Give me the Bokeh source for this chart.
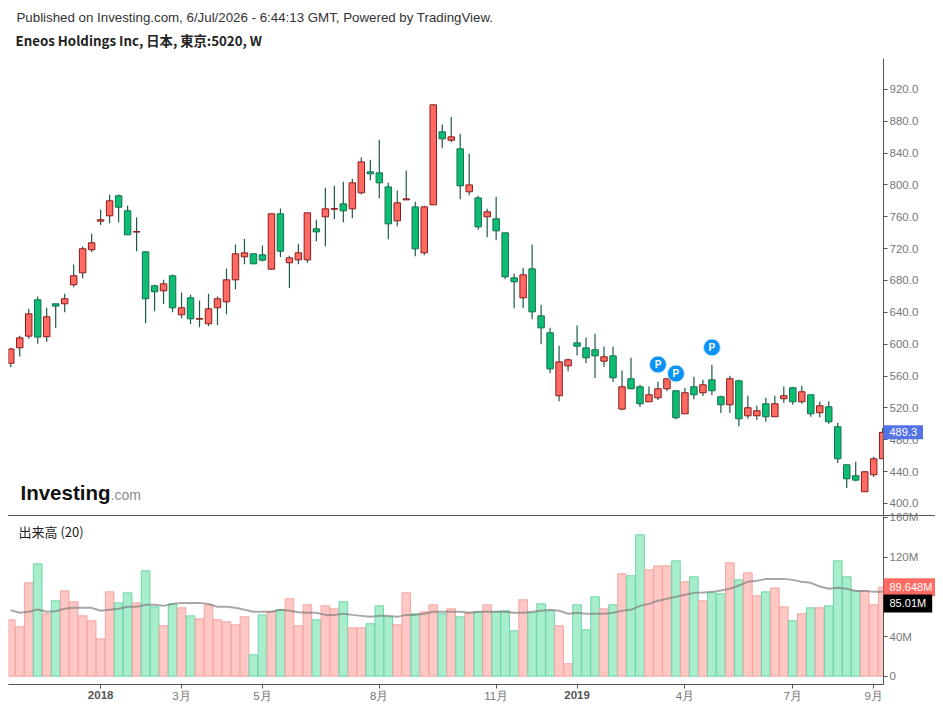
from bokeh.plotting import figure
from bokeh.layouts import column
from bokeh.models import Range1d, LinearAxis, FixedTicker, NumeralTickFormatter, Label, Div
from bokeh.embed import file_html
from bokeh.resources import INLINE

up = [1,1,1,0,1,0,1,1,1,1,1,1,0,0,1,0,0,1,0,1,0,1,1,1,1,1,1,0,0,1,0,1,1,1,0,1,1,0,1,1,0,0,0,1,1,0,1,1,0,1,0,1,0,1,0,0,0,1,0,0,0,1,1,0,0,0,1,0,1,0,0,1,1,1,0,1,0,1,0,0,1,0,1,1,0,1,1,0,1,0,1,0,0,0,0,1,1,1]
highs = [595,610.5,644.4,659.9,645.7,650.7,663.3,700.1,722.7,738.6,768.7,787.6,788,773.7,759.1,716,674.6,680.8,687.5,664.9,662,654.9,663.3,659.9,695,725.2,732.3,713.5,723.9,763.7,770.4,711,726,764.9,756.1,796.3,798.8,803.8,807.6,834.4,831.5,856.6,802.6,793,818.1,778.7,773.7,900.5,875.8,885.4,864.1,839,786.3,769.9,785,739.8,688.8,695.9,725.2,649.4,620.5,597.9,581.6,623.5,608.4,613,597.2,597.2,567,582.9,549,546.9,552.8,556.6,541.5,545.3,559.1,555.3,574.1,535.2,560.3,555.3,535.2,522.7,532.7,535.2,546.9,546.5,547.8,536.5,528.1,528.5,501.3,448.6,452.4,440.6,458.6,495]
tops = [594,608,638.1,655.7,634.4,650.7,657,685.9,719.8,727.3,756.2,780,786.3,767.5,741.5,716,673.3,675.8,685.9,645.7,658.2,632.3,644.4,657,680.8,713.5,714.7,713.5,712.2,763.7,763.7,708.4,714.7,764.9,744.8,769.9,770.3,776.2,802.6,828.9,816.4,815.1,797.5,777.5,782.5,772.4,772.4,900.5,866.6,860.3,845.3,800,783.7,766.2,757.4,739.8,683.3,687.1,694.6,635.6,614.3,577.8,580.4,601.7,595.4,593,584.2,585.4,546.5,556.6,546.5,536.5,544,556.6,541.5,539,546.5,549,555.3,534,556.6,554,520.2,516.4,525.2,525.2,535.2,545.3,540.2,536.5,522.7,521.4,496.3,448.6,434.8,439.8,456.1,489.3]
bottoms = [576,595.5,610.1,608.9,609.3,647.8,650.7,674.6,689.6,718.5,754.5,761.2,772,737.3,740.7,657,665.8,667,645.7,636.9,631.9,631.4,625.6,645.7,653.2,680.8,709.7,700.9,705.5,694.2,716.8,702.2,705.9,705.9,741,759.9,769.5,767.4,769.9,790,813.9,802.6,751.1,754.9,781.2,719.7,714.7,774.9,857.8,856.1,798.8,791.3,747.3,759.9,742.3,684.6,678.3,658.2,640.6,620.5,569,535.2,572.8,597.5,582.9,585.4,578.7,557.8,518.5,544,525.2,527.7,532.7,544,507.6,512.6,536.5,539,541.5,523.9,523.9,506.3,510.1,510.1,508.9,508.9,531.5,527.7,527.7,512.6,513.9,502.6,456.1,431,429.3,414.7,436,456.1]
lows = [571,584.6,606.8,600.5,603,620.2,640.2,671.6,682.9,715.6,749.5,752,753.2,737.3,716.8,626.4,641.5,650.3,640.2,632.7,625.2,621.4,622.7,623.9,637.7,669.1,700.5,700.9,703.9,693.4,709.3,670.4,700.5,702.1,729.3,723.1,757,753.2,758.2,788.3,805.9,783.3,731.8,748.2,781.2,710.5,711.8,774.9,846.1,853.6,782.1,787.1,743.6,734.4,730.6,681.6,645.2,645.2,631.4,600,563.6,528.5,566.1,585.8,576.2,557.4,571.2,552.4,517.2,544,521,527.7,529.8,541.1,505.9,512.6,531,534.8,536,513.5,513.5,497.1,506.3,504.7,502.6,508.9,526.4,523.9,525.2,508.9,508.4,500.1,450.7,419.3,428,414.7,433.1,456.1]
volumes_m = [56.8,49.7,94.1,113.3,62.9,76,86,75,60.8,55.8,37.6,85,73.9,84,73.9,106.2,69.9,50.8,72.9,68.9,60.8,57.8,71.9,56.8,54.8,51.8,59.8,21.5,61.8,64.9,66.9,78,50.8,71.9,56.8,70.9,67.9,75,48.7,48.7,52.8,70.9,59.8,51.8,84,62.9,64.9,71.9,62.9,67.9,59.8,63.9,64.9,71.9,64.9,65.9,45.7,77,63.9,72.9,65.9,50.8,12.4,71.9,46.7,80,67.9,71.9,103.2,101.2,142.5,107.2,111.2,111.2,116.3,95.1,100.2,76,84,83,114.3,97.1,104.2,81,85,89,69.9,55.8,62.9,68.9,68.9,70.9,116.3,100.2,86,86,71.9,89.648]
volume_ma_m = [66.5,63.9,64.9,67.2,64.9,65.5,67.9,68.9,68.9,68.9,65.9,66.9,67.9,69.9,69.9,71.9,71.9,70.9,72.9,73.9,73.9,73.9,72.9,69.9,69.9,68.9,66.9,64.9,64.9,64.9,66.9,65.9,64.5,63.9,63.9,61.8,61.8,62.9,61.8,60.8,59.8,60.8,60.8,59.8,61.8,61.8,62.9,64.9,64.9,64.9,64.9,63.9,64.9,64.9,64.9,64.9,63.9,63.9,64.9,65.9,66.9,65.9,62.9,63.9,62.9,62.9,62.9,63.9,65.9,66.9,70.9,72.9,76,78,80,82,84,84.4,85,86.4,88.1,91.4,95.1,96.1,98.1,98.1,98.1,97.1,95.1,94.1,90.4,88.1,89.1,88.1,86,86,85,85.01]
x_tick_pos = [19,28,41,54,75,87,96]
x_tick_names = ["3月","5月","8月","11月","4月","7月","9月"]
year_pos = [10,63]
year_names = ["2018","2019"]
price_ticks = [400,440,480,520,560,600,640,680,720,760,800,840,880,920]
volume_ticks = [0,40,80,120,160]
pivot_pos = [72,74,78]
pivot_price = [574.5,563.2,595.9]
last_price = 489.3
last_volume = 89.648
last_ma = 85.01

idx = list(range(len(highs)))
XR = (-0.25, 97.09)
H = 52   # height taken by the label panels stacked above the volume frame
RED, RED_B, GRN, GRN_B, WICK = "#ff6b62", "#8a1c1c", "#0dbd74", "#14704f", "#1f5a48"
fill = [RED if u else GRN for u in up]
edge = [RED_B if u else GRN_B for u in up]
vfill = ["#ffc8c5" if u else "#a8edcc" for u in up]
vedge = ["#f3a5a2" if u else "#6fd6aa" for u in up]
AX, TXT, FONT = "#555555", "#777777", "Liberation Sans"

def style_axis(ax):
    ax.axis_line_color = AX
    ax.major_tick_line_color = AX
    ax.major_tick_out = 4
    ax.major_tick_in = 0
    ax.minor_tick_line_color = None
    ax.major_label_text_color = TXT
    ax.major_label_text_font = FONT
    ax.major_label_text_font_size = "11.5px"
    ax.major_label_standoff = 2

def base(h, top, bottom, yr, **kw):
    f = figure(width=935, height=h, x_range=Range1d(*XR), y_range=Range1d(*yr),
               output_backend="svg", toolbar_location=None,
               min_border_left=8, min_border_right=52, min_border_top=top, min_border_bottom=bottom,
               x_axis_location=None, y_axis_location=None, outline_line_color=None, **kw)
    f.grid.visible = False
    return f

# price pane
p1 = base(515, 58, 0, (384.9, 958.7))
p1.segment(idx, highs, idx, lows, line_color=WICK, line_width=1.2)
p1.vbar(idx, 0.72, bottoms, tops, fill_color=fill, line_color=edge, line_width=1)
p1.scatter(pivot_pos, pivot_price, size=17, fill_color="#0d93f5", line_color="#cfe9fd", line_width=1)
p1.text(pivot_pos, pivot_price, text=["P"]*3, text_color="white", text_font_size="10px",
        text_font={"value": "Liberation Sans"}, text_font_style="bold", text_align="center", text_baseline="middle")
ax1 = LinearAxis(ticker=FixedTicker(ticks=price_ticks), formatter=NumeralTickFormatter(format="0.0"))
style_axis(ax1)
p1.add_layout(ax1, "right")

def add_text(f, text, x, y, **kw):
    f.add_layout(Label(x=x, y=y, x_units="canvas", y_units="canvas", text=text, text_baseline="middle", **kw), "above")

def add_inner(f, text, x, y, **kw):
    f.add_layout(Label(x=x, y=y, x_units="screen", y_units="screen", text=text, text_baseline="middle", **kw))

def add_tag(f, val, txt, bg):
    f.add_layout(Label(x=883, y=val, x_units="canvas", y_units="data", text=txt, text_baseline="middle",
                       text_font=FONT, text_font_size="11px", text_color="white",
                       background_fill_color=bg, padding=(6, 3)), "above")

add_text(p1, "Published on Investing.com, 6/Jul/2026 - 6:44:13 GMT, Powered by TradingView.", 16, 17,
         text_font=FONT, text_font_size="13.3px", text_color="#333333")
add_text(p1, "Eneos Holdings Inc, 日本, 東京:5020, W", 15, 40,
         text_font="Noto Sans CJK JP", text_font_style="bold", text_font_size="13.3px", text_color="#222222")
add_inner(p1, "Investing", 12, 515 - 492, text_font=FONT, text_font_style="bold", text_font_size="20.5px", text_color="#111111")
add_inner(p1, ".com", 102, 515 - 494, text_font=FONT, text_font_size="14px", text_color="#8a8a8a")
add_tag(p1, last_price, f"{last_price}", "#5373e6")

# volume pane
TOP2 = 516 - H
p2 = base(192 + H, 0, 24, (-8.4, 161), margin=(-H, 0, 0, 0), background_fill_color=None, border_fill_color=None)
p2.vbar(idx, 0.96, 0, volumes_m, fill_color=vfill, line_color=vedge, line_width=1)
p2.line(idx, volume_ma_m, line_color="#7a7a7a", line_alpha=0.65, line_width=2)
ax2 = LinearAxis(ticker=FixedTicker(ticks=volume_ticks), major_label_overrides={t: (f"{t}M" if t else "0") for t in volume_ticks})
style_axis(ax2)
p2.add_layout(ax2, "right")
ax3 = LinearAxis(ticker=FixedTicker(ticks=x_tick_pos + year_pos),
                 major_label_overrides={**{t: n for t, n in zip(x_tick_pos, x_tick_names)}, **{t: "" for t in year_pos}})
style_axis(ax3)
ax3.major_label_standoff = 1
p2.add_layout(ax3, "below")
add_inner(p2, "出来高 (20)", 10, 684 - 531, text_font="Noto Sans CJK JP", text_font_size="13px", text_color="#222222")
for t, n in zip(year_pos, year_names):
    p2.add_layout(Label(x=t, y=694 - TOP2, x_units="data", y_units="canvas", text=n, text_align="center", text_baseline="middle",
                        text_font=FONT, text_font_style="bold", text_font_size="11.5px", text_color="#555555"), "above")
add_tag(p2, last_volume, "89.648M", "#ff6b62")
add_tag(p2, 73.3, f"{last_ma}M", "#000000")

sep = Div(text="", width=927, height=1, margin=(0, 0, 0, 8), styles={"background-color": "#555555"})
out = column(p1, sep, p2, spacing=0)
open("out.html", "w").write(file_html(out, INLINE))
